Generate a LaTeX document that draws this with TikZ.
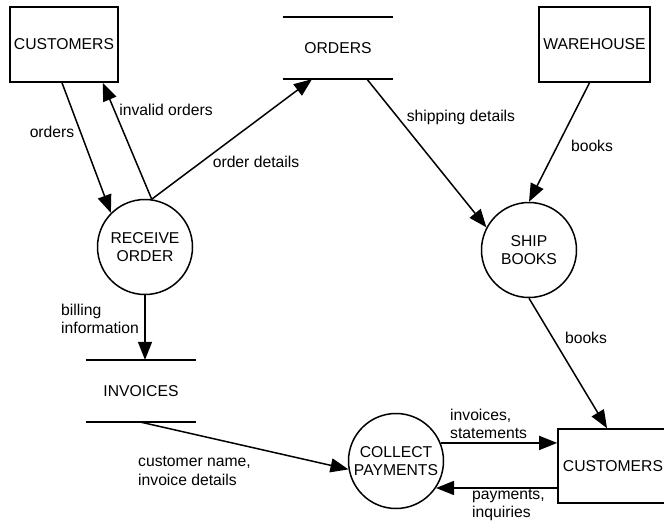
\documentclass[tikz,border=0pt]{standalone}
\usepackage{fontspec}
\setmainfont{Liberation Sans}
\usetikzlibrary{arrows.meta}
\begin{document}
\begin{tikzpicture}[x=1pt,y=-1pt,
  every node/.style={font=\fontsize{15.7}{18.7}\selectfont},
  entity/.style={draw,line width=1.6pt,rectangle,minimum width=108pt,minimum height=75pt,inner sep=0pt},
  process/.style={draw,line width=1.5pt,circle,minimum size=95pt,inner sep=0pt,align=center},
  store/.style={rectangle,minimum width=110pt,minimum height=62pt,inner sep=0pt},
  storeline/.style={line width=1.5pt},
  flow/.style={line width=1.5pt,-{Triangle[length=18pt,width=14pt]}},
  lbl/.style={inner sep=0pt,align=left}]
\useasboundingbox (0,0) rectangle (664,520);

% externals, processes and data stores
\node[entity] (cust) at (64,44.5) {CUSTOMERS};
\node[entity,minimum width=111pt] (wh) at (594.5,44.5) {WAREHOUSE};
\node[entity,minimum width=110pt,minimum height=74pt] (cust2) at (613,466) {CUSTOMERS};
\node[store] (orders) at (338,48) {ORDERS};
\node[store] (inv) at (141,391) {INVOICES};
\node[process] (recv) at (145,247) {RECEIVE\\ORDER};
\node[process] (ship) at (529,250) {SHIP\\BOOKS};
\node[process] (coll) at (396,461) {COLLECT\\PAYMENTS};

% data store edges
\draw[storeline] (orders.north west) -- (orders.north east)
                 (orders.south west) -- (orders.south east);
\draw[storeline] (inv.north west) -- (inv.north east)
                 (inv.south west) -- (inv.south east);

% data flows
\draw[flow] ([xshift=-2pt]cust.south) -- (recv.135);
\draw[flow] (recv.82) -- ([xshift=-16pt]cust.south east);
\draw[flow] (recv.82) -- ([xshift=-26pt]orders.south);
\draw[flow] ([xshift=29pt]orders.south) -- (ship.152);
\draw[flow] ([xshift=-5pt]wh.south) -- (ship.north);
\draw[flow] (recv.south) -- (recv.south |- inv.north);
\draw[flow] (inv.south) -- (coll.190);
\draw[flow] (ship.south) -- ([xshift=-6pt]cust2.north);
\draw[flow] (coll.22) -- (coll.22 -| cust2.west);
\draw[flow] (cust2.west |- coll.-34) -- (coll.-34);

% flow labels
\node[lbl] (lorders) at (52,132) {orders};
\node[lbl] (linvalid) at (166,110) {invalid orders};
\node[lbl] (ldetails) at (256,162) {order details};
\node[lbl] (lship) at (461,117) {shipping details};
\node[lbl] (lbooks) at (592,146) {books};
\node[lbl] (lbooks2) at (586,338) {books};
\node[lbl,anchor=west] (lbill) at (61,319) {billing\\information};
\node[lbl,anchor=west] (lcust) at (138,471) {customer name,\\invoice details};
\node[lbl,anchor=west] (linvst) at (450,424) {invoices,\\statements};
\node[lbl,anchor=west] (lpay) at (472,505) {payments,\\inquiries};
\end{tikzpicture}
\end{document}
